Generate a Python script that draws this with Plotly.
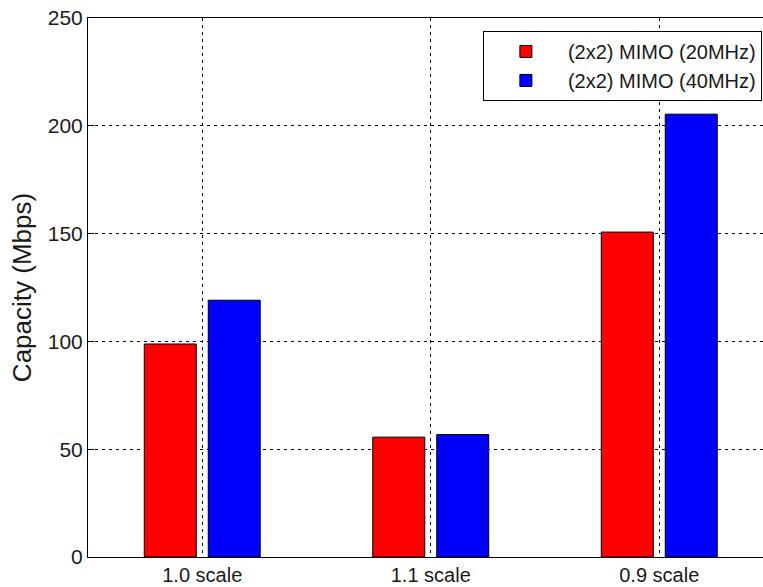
import plotly.graph_objects as go

categories = ["1.0 scale", "1.1 scale", "0.9 scale"]
positions = [1, 2, 3]
mimo_20mhz = [98.8, 55.6, 150.7]
mimo_40mhz = [119.1, 56.8, 205.4]
series_names = ["(2x2) MIMO (20MHz)", "(2x2) MIMO (40MHz)"]
y_ticks = [0, 50, 100, 150, 200, 250]

FONT = "Liberation Sans, Arial, sans-serif"

fig = go.Figure()
fig.add_trace(go.Bar(x=positions, y=mimo_20mhz, name=series_names[0],
                     marker=dict(color="#ff0000", line=dict(color="black", width=1))))
fig.add_trace(go.Bar(x=positions, y=mimo_40mhz, name=series_names[1],
                     marker=dict(color="#0000ff", line=dict(color="black", width=1))))

grid = dict(showgrid=True, gridcolor="black", gridwidth=1, griddash="3px,4px")

fig.update_layout(
    width=763, height=587,
    margin=dict(l=88, r=0, t=18, b=30, autoexpand=False),
    paper_bgcolor="white", plot_bgcolor="white",
    barmode="group", bargap=0.44, bargroupgap=0.1875,
    font=dict(family=FONT, size=20, color="#1a1a1a"),
    showlegend=True,
    legend=dict(x=0.585, y=0.976, xanchor="left", yanchor="top",
                bgcolor="white", bordercolor="black", borderwidth=1,
                font=dict(size=20, color="#1a1a1a"), itemwidth=74,
                tracegroupgap=0),
    xaxis=dict(range=[0.5, 3.454], tickmode="array", tickvals=positions,
               ticktext=categories, showline=True, linecolor="black",
               linewidth=1, mirror=True, ticks="", zeroline=False,
               ticklabelstandoff=0, ticklabeloverflow="allow",
               tickfont=dict(size=20, color="#1a1a1a"), **grid),
    yaxis=dict(range=[0, 250], tickmode="array", tickvals=y_ticks,
               showline=True, linecolor="black", linewidth=1,
               ticks="inside", ticklen=6, tickcolor="black", zeroline=False,
               ticklabeloverflow="allow",
               tickfont=dict(size=21, color="#1a1a1a"),
               title=dict(text="Capacity (Mbps)", font=dict(size=26, color="#1a1a1a"),
                          standoff=8),
               **grid),
)

fig.write_html("out.html", config={"displayModeBar": False},
               post_script="document.body.style.margin='0px';document.body.style.overflow='hidden';")
